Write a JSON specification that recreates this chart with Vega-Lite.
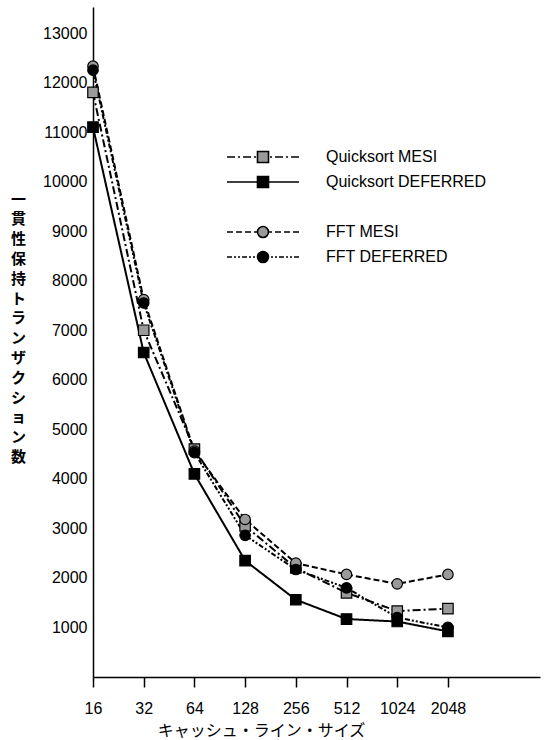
{
  "$schema": "https://vega.github.io/schema/vega-lite/v6.json",
  "width": 447,
  "height": 670,
  "autosize": "none",
  "padding": {"left": 93, "top": 7, "right": 6, "bottom": 63},
  "background": "white",
  "config": {
    "view": {"stroke": null},
    "font": "Liberation Sans",
    "axis": {"grid": false, "labelColor": "black", "titleColor": "black", "domainColor": "black", "tickColor": "black"},
    "legend": {
      "orient": "none",
      "legendX": 133,
      "legendY": 137.5,
      "padding": 0,
      "symbolSize": 5184,
      "symbolStrokeWidth": 1.6,
      "symbolStrokeColor": "black",
      "clipHeight": 25,
      "rowPadding": 0,
      "labelOffset": 26,
      "labelFontSize": 16,
      "labelFont": "Liberation Sans",
      "labelColor": "black",
      "labelLimit": 400
    }
  },
  "data": {
    "values": [
      {"series": "Quicksort MESI", "size": 16, "count": 11800},
      {"series": "Quicksort MESI", "size": 32, "count": 7000},
      {"series": "Quicksort MESI", "size": 64, "count": 4600},
      {"series": "Quicksort MESI", "size": 128, "count": 3050},
      {"series": "Quicksort MESI", "size": 256, "count": 2200},
      {"series": "Quicksort MESI", "size": 512, "count": 1700},
      {"series": "Quicksort MESI", "size": 1024, "count": 1330},
      {"series": "Quicksort MESI", "size": 2048, "count": 1380},
      {"series": "Quicksort DEFERRED", "size": 16, "count": 11100},
      {"series": "Quicksort DEFERRED", "size": 32, "count": 6550},
      {"series": "Quicksort DEFERRED", "size": 64, "count": 4100},
      {"series": "Quicksort DEFERRED", "size": 128, "count": 2350},
      {"series": "Quicksort DEFERRED", "size": 256, "count": 1560},
      {"series": "Quicksort DEFERRED", "size": 512, "count": 1170},
      {"series": "Quicksort DEFERRED", "size": 1024, "count": 1120},
      {"series": "Quicksort DEFERRED", "size": 2048, "count": 920},
      {"series": "FFT MESI", "size": 16, "count": 12330},
      {"series": "FFT MESI", "size": 32, "count": 7620},
      {"series": "FFT MESI", "size": 64, "count": 4560},
      {"series": "FFT MESI", "size": 128, "count": 3180},
      {"series": "FFT MESI", "size": 256, "count": 2300},
      {"series": "FFT MESI", "size": 512, "count": 2070},
      {"series": "FFT MESI", "size": 1024, "count": 1880},
      {"series": "FFT MESI", "size": 2048, "count": 2070},
      {"series": "FFT DEFERRED", "size": 16, "count": 12250},
      {"series": "FFT DEFERRED", "size": 32, "count": 7550},
      {"series": "FFT DEFERRED", "size": 64, "count": 4530},
      {"series": "FFT DEFERRED", "size": 128, "count": 2860},
      {"series": "FFT DEFERRED", "size": 256, "count": 2170},
      {"series": "FFT DEFERRED", "size": 512, "count": 1800},
      {"series": "FFT DEFERRED", "size": 1024, "count": 1200},
      {"series": "FFT DEFERRED", "size": 2048, "count": 1000}
    ]
  },
  "encoding": {
    "x": {
      "field": "size", "type": "quantitative",
      "scale": {"type": "log", "base": 2, "domain": [16, 7211], "nice": false},
      "axis": {
        "values": [16, 32, 64, 128, 256, 512, 1024, 2048],
        "format": "d",
        "title": "キャッシュ・ライン・サイズ",
        "titleFont": "Noto Sans CJK JP",
        "titleFontSize": 16,
        "titleFontWeight": "normal",
        "titleX": 168,
        "titleY": 53,
        "titleAlign": "center",
        "titleBaseline": "middle",
        "labelFontSize": 16,
        "labelPadding": 13,
        "tickSize": 10,
        "tickWidth": 1.5,
        "domainWidth": 1.5,
        "labelFlush": false,
        "labelOverlap": false
      }
    },
    "y": {
      "field": "count", "type": "quantitative",
      "scale": {"domain": [0, 13525], "nice": false, "zero": true},
      "axis": {
        "values": [1000, 2000, 3000, 4000, 5000, 6000, 7000, 8000, 9000, 10000, 11000, 12000, 13000],
        "format": "d",
        "ticks": false,
        "labelPadding": 6,
        "labelFontSize": 16,
        "domainWidth": 1.5,
        "labelOverlap": false,
        "title": ["一", "貫", "性", "保", "持", "ト", "ラ", "ン", "ザ", "ク", "シ", "ョ", "ン", "数"],
        "titleFont": "Noto Sans CJK JP",
        "titleFontSize": 15,
        "titleFontWeight": "bold",
        "titleAngle": 0,
        "titleX": -75,
        "titleY": 185,
        "titleAlign": "center",
        "titleBaseline": "top",
        "titleLineHeight": 19.8
      }
    }
  },
  "layer": [
    {
      "mark": {"type": "line", "color": "black", "strokeWidth": 2},
      "encoding": {
        "strokeDash": {
          "field": "series", "type": "nominal",
          "scale": {
            "domain": ["Quicksort MESI", "Quicksort DEFERRED", "FFT MESI", "FFT DEFERRED"],
            "range": [[8, 3, 2, 3], [1, 0], [6, 3], [5, 2, 2, 2, 2, 2]]
          },
          "legend": null
        }
      }
    },
    {
      "mark": {"type": "point", "filled": true, "stroke": "black", "strokeWidth": 1.2, "opacity": 1, "size": 110},
      "encoding": {
        "shape": {
          "field": "series", "type": "nominal",
          "scale": {
            "domain": ["Quicksort MESI", "Quicksort DEFERRED", "FFT MESI", "FFT DEFERRED"],
            "range": ["square", "square", "circle", "circle"]
          },
          "legend": null
        },
        "fill": {
          "field": "series", "type": "nominal",
          "scale": {
            "domain": ["Quicksort MESI", "Quicksort DEFERRED", "FFT MESI", "FFT DEFERRED"],
            "range": ["#9a9a9a", "black", "#9a9a9a", "black"]
          },
          "legend": null
        }
      }
    },
    {
      "transform": [{"filter": "false"}],
      "mark": {"type": "point", "size": 5184, "filled": true, "stroke": "black", "strokeWidth": 1.6, "opacity": 1},
      "encoding": {
        "shape": {
          "field": "series", "type": "nominal",
          "scale": {
            "domain": ["Quicksort MESI", "Quicksort DEFERRED", " ", "FFT MESI", "FFT DEFERRED"],
            "range": [
              "M-1,0H-0.778M-0.694,0H-0.639M-0.556,0H-0.333M-0.25,0H-0.194M0.194,0H0.25M0.333,0H0.556M0.639,0H0.694M0.778,0H1M-0.153,-0.153H0.153V0.153H-0.153Z",
              "M-1,0H1M-0.153,-0.153H0.153V0.153H-0.153Z",
              "M0,0H0.001",
              "M-1,0H-0.833M-0.75,0H-0.583M-0.5,0H-0.333M-0.25,0H-0.167M0.167,0H0.25M0.333,0H0.5M0.583,0H0.75M0.833,0H1M-0.153,0A0.153,0.153,0,1,0,0.153,0A0.153,0.153,0,1,0,-0.153,0Z",
              "M-1,0H-0.861M-0.806,0H-0.75M-0.694,0H-0.639M-0.583,0H-0.444M-0.389,0H-0.333M-0.278,0H-0.222M0.222,0H0.278M0.333,0H0.389M0.444,0H0.583M0.639,0H0.694M0.75,0H0.806M0.861,0H1M-0.153,0A0.153,0.153,0,1,0,0.153,0A0.153,0.153,0,1,0,-0.153,0Z"
            ]
          },
          "legend": {"title": null}
        },
        "fill": {
          "field": "series", "type": "nominal",
          "scale": {
            "domain": ["Quicksort MESI", "Quicksort DEFERRED", " ", "FFT MESI", "FFT DEFERRED"],
            "range": ["#9a9a9a", "black", "white", "#9a9a9a", "black"]
          },
          "legend": {"title": null}
        },
        "stroke": {
          "field": "series", "type": "nominal",
          "scale": {
            "domain": ["Quicksort MESI", "Quicksort DEFERRED", " ", "FFT MESI", "FFT DEFERRED"],
            "range": ["black", "black", "white", "black", "black"]
          },
          "legend": {"title": null}
        }
      }
    }
  ],
  "resolve": {
    "scale": {"shape": "independent", "fill": "independent", "stroke": "independent"},
    "legend": {"shape": "independent", "fill": "independent", "stroke": "independent"}
  }
}
